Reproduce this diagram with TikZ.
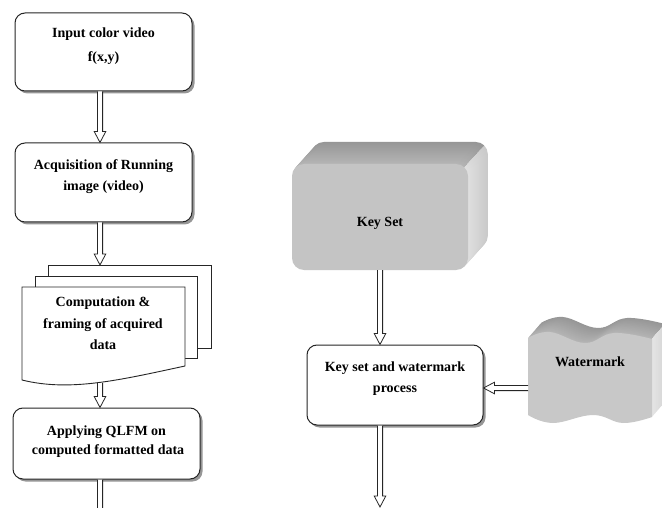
\documentclass[tikz,border=0pt]{standalone}
\usepackage{fontspec}
\setmainfont{Liberation Serif}
\usetikzlibrary{calc,shadows}
\definecolor{ksfront}{HTML}{C4C4C4}
\definecolor{wmfront}{HTML}{C8C8C8}
\newcommand\mydownarrow[2]{\draw[arr] let \p1=(#1), \p2=(#2) in (\x1-2.6pt,\y1) -- (\x1-2.6pt,\y2+11pt) -- (\x1-5.8pt,\y2+11pt) -- (\x1,\y2) -- (\x1+5.8pt,\y2+11pt) -- (\x1+2.6pt,\y2+11pt) -- (\x1+2.6pt,\y1);}
\newcommand\myleftarrow[2]{\draw[arr] let \p1=(#1), \p2=(#2) in (\x1,\y1+2.6pt) -- (\x2+11pt,\y1+2.6pt) -- (\x2+11pt,\y1+5.8pt) -- (\x2,\y1) -- (\x2+11pt,\y1-5.8pt) -- (\x2+11pt,\y1-2.6pt) -- (\x1,\y1-2.6pt);}
\newcommand\wmshape{(528,338) -- plot[smooth, tension=0.7] coordinates {(528,338) (550,332) (585,343) (614,333) (652,339)} -- (652,417) -- plot[smooth, tension=0.7] coordinates {(652,417) (623,423) (593,415) (553,423) (528,415)} -- cycle}
\begin{document}
\begin{tikzpicture}[x=1pt,y=-1pt,
  box/.style={draw=black!85, line width=1pt, rounded corners=10pt, fill=white, inner sep=0pt,
    drop shadow={shadow xshift=2.5pt, shadow yshift=-2.5pt, opacity=0.55, fill=black!75}},
  txt/.style={font=\bfseries\fontsize{14}{17}\selectfont, inner sep=0pt, anchor=base},
  arr/.style={draw=black!85, line width=0.8pt, fill=white, line join=miter},
  page/.style={draw=black!85, line width=0.9pt, fill=white}]
\useasboundingbox (0,0) rectangle (662,508);
\fill[white] (0,0) rectangle (662,508);

% ---------- left column ----------
\node[box, minimum width=177pt, minimum height=78pt] (b1) at (103.5,52) {};
\node[txt] (t1a) at (103.5,37.5) {Input color video};
\node[txt] (t1b) at (103.5,61.5) {f(x,y)};

\node[box, minimum width=177pt, minimum height=79pt] (b2) at (103.5,182.5) {};
\node[txt] (t2a) at (103.5,170) {Acquisition of Running};
\node[txt] (t2b) at (103.5,191) {image (video)};

% multi-document
\filldraw[page] (48,265) rectangle (211,348);
\filldraw[page] (35,276) rectangle (197,358);
\filldraw[page] (22,287) -- (185,287) -- (185,366) .. controls (120,380) and (70,392) .. (22,380) -- cycle;
\node[txt] (t3a) at (103,306.5) {Computation \&};
\node[txt] (t3b) at (103,328) {framing of acquired};
\node[txt] (t3c) at (103,349) {data};
\coordinate (docT) at (100,265);
\coordinate (docB) at (100,383);

\node[box, minimum width=187pt, minimum height=71pt] (b4) at (106.5,443.5) {};
\node[txt] (t4a) at (106.5,435) {Applying QLFM on};
\node[txt] (t4b) at (108,454.5) {computed formatted data};

\coordinate (axL) at (100,0);
\coordinate (endL) at (100,530);
\mydownarrow{b1.south -| axL}{b2.north -| axL}
\mydownarrow{b2.south -| axL}{docT}
\mydownarrow{docB}{b4.north -| axL}
\mydownarrow{b4.south -| axL}{endL}

% ---------- key set (3D box) ----------
\begin{scope}
  \clip (250,90) -- (535,90) -- (408,230) -- (250,230) -- cycle;
  \foreach \i in {22,...,1}{
    \pgfmathsetmacro\c{29+0.55*\i}
    \fill[black!\c, rounded corners=12pt, shift={(\i*0.9,-\i)}] (292,164) rectangle (468,270);
  }
\end{scope}
\begin{scope}
  \clip (535,90) -- (620,90) -- (620,300) -- (344,300) -- cycle;
  \foreach \i in {22,...,1}{
    \pgfmathsetmacro\c{12+0.4*\i}
    \fill[black!\c, rounded corners=12pt, shift={(\i*0.9,-\i)}] (292,164) rectangle (468,270);
  }
\end{scope}
\node[fill=ksfront, rounded corners=12pt, minimum width=176pt, minimum height=106pt, inner sep=0pt] (ks) at (380,217) {};
\node[txt] (tks) at (380,226.5) {Key Set};

\node[box, minimum width=176pt, minimum height=80pt] (b5) at (395,385) {};
\node[txt] (t5a) at (395,371.5) {Key set and watermark};
\node[txt] (t5b) at (395,392.5) {process};

% ---------- watermark (3D wave) ----------
\begin{scope}
  \clip (500,250) -- (729,250) -- (599,400) -- (500,400) -- cycle;
  \foreach \i in {20,...,1}{
    \pgfmathsetmacro\c{29+0.6*\i}
    \fill[black!\c, shift={(\i*0.65,-\i*0.75)}] \wmshape;
  }
\end{scope}
\begin{scope}
  \clip (729,250) -- (800,250) -- (800,450) -- (556,450) -- cycle;
  \foreach \i in {20,...,1}{
    \pgfmathsetmacro\c{10+0.3*\i}
    \fill[black!\c, shift={(\i*0.65,-\i*0.75)}] \wmshape;
  }
\end{scope}
\fill[wmfront] \wmshape;
\node[txt] (twm) at (590,366) {Watermark};
\coordinate (wm) at (528,388);

\coordinate (axR) at (380,0);
\coordinate (endR) at (380,507);
\mydownarrow{ks.south -| axR}{b5.north -| axR}
\mydownarrow{b5.south -| axR}{endR}
\myleftarrow{wm}{b5.east |- wm}
\end{tikzpicture}
\end{document}
